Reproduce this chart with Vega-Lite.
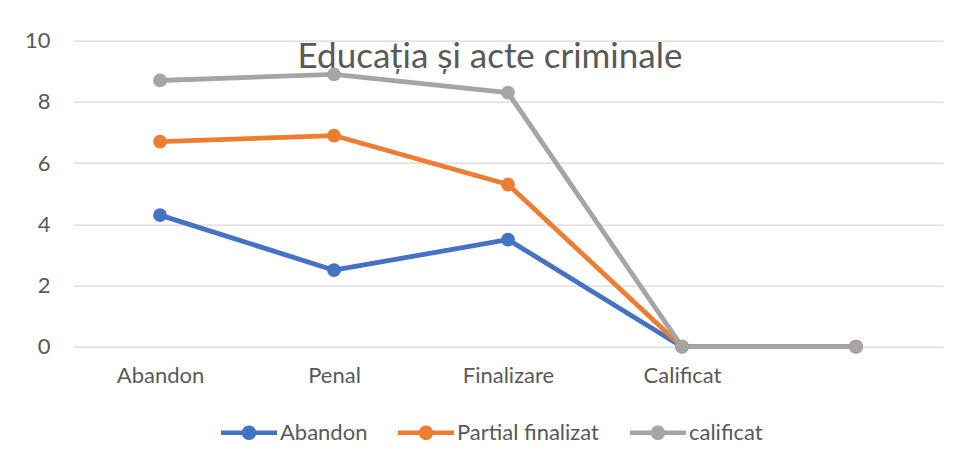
{
  "$schema": "https://vega.github.io/schema/vega-lite/v6.json",
  "width": 870,
  "height": 306,
  "autosize": "none",
  "padding": {"left": 73, "top": 40.7, "right": 16, "bottom": 116},
  "background": "white",
  "config": {"font": "Lato", "view": {"stroke": null}},
  "title": {
    "text": "Educația și acte criminale",
    "fontSize": 35,
    "font": "Lato",
    "fontWeight": "normal",
    "color": "#595959",
    "anchor": "middle",
    "frame": "group",
    "dx": -18,
    "offset": -73,
    "baseline": "alphabetic"
  },
  "data": {
    "values": [
      {"series": "Abandon", "cat": "Abandon", "val": 4.3},
      {"series": "Abandon", "cat": "Penal", "val": 2.5},
      {"series": "Abandon", "cat": "Finalizare", "val": 3.5},
      {"series": "Abandon", "cat": "Calificat", "val": 0},
      {"series": "Abandon", "cat": " ", "val": 0},
      {"series": "Partial finalizat", "cat": "Abandon", "val": 6.7},
      {"series": "Partial finalizat", "cat": "Penal", "val": 6.9},
      {"series": "Partial finalizat", "cat": "Finalizare", "val": 5.3},
      {"series": "Partial finalizat", "cat": "Calificat", "val": 0},
      {"series": "Partial finalizat", "cat": " ", "val": 0},
      {"series": "calificat", "cat": "Abandon", "val": 8.7},
      {"series": "calificat", "cat": "Penal", "val": 8.9},
      {"series": "calificat", "cat": "Finalizare", "val": 8.3},
      {"series": "calificat", "cat": "Calificat", "val": 0},
      {"series": "calificat", "cat": " ", "val": 0}
    ]
  },
  "encoding": {
    "x": {
      "field": "cat",
      "type": "nominal",
      "sort": ["Abandon", "Penal", "Finalizare", "Calificat", " "],
      "scale": {"type": "point", "padding": 0.5},
      "axis": {
        "title": null,
        "labelAngle": 0,
        "domain": false,
        "ticks": false,
        "grid": false,
        "labelPadding": 19,
        "labelFontSize": 22,
        "labelColor": "#595959",
        "labelFont": "Lato"
      }
    },
    "y": {
      "field": "val",
      "type": "quantitative",
      "scale": {"domain": [0, 10]},
      "axis": {
        "title": null,
        "values": [0, 2, 4, 6, 8, 10],
        "domain": false,
        "ticks": false,
        "grid": true,
        "gridColor": "#D9D9D9",
        "gridWidth": 1.3,
        "labelPadding": 23,
        "labelFontSize": 22,
        "labelColor": "#595959",
        "labelFont": "Lato"
      }
    },
    "color": {
      "field": "series",
      "type": "nominal",
      "scale": {"domain": ["Abandon", "Partial finalizat", "calificat"], "range": ["#4472C4", "#ED7D31", "#A5A5A5"]},
      "legend": {
        "title": null,
        "orient": "none",
        "legendX": 148,
        "legendY": 364,
        "direction": "horizontal",
        "symbolType": "M-1,-0.08 L1,-0.08 L1,0.08 L-1,0.08 Z M-0.26,0 A0.26,0.26 0 1,1 0.26,0 A0.26,0.26 0 1,1 -0.26,0 Z",
        "symbolSize": 3136,
        "symbolStrokeWidth": 0,
        "symbolOpacity": 1,
        "labelFontSize": 22,
        "labelColor": "#595959",
        "labelFont": "Lato",
        "labelOffset": 3,
        "columnPadding": 30
      }
    }
  },
  "layer": [
    {
      "mark": {"type": "line", "strokeWidth": 4.8, "strokeCap": "round", "strokeJoin": "round"}
    },
    {
      "mark": {"type": "point", "filled": true, "size": 190, "opacity": 1}
    }
  ]
}
